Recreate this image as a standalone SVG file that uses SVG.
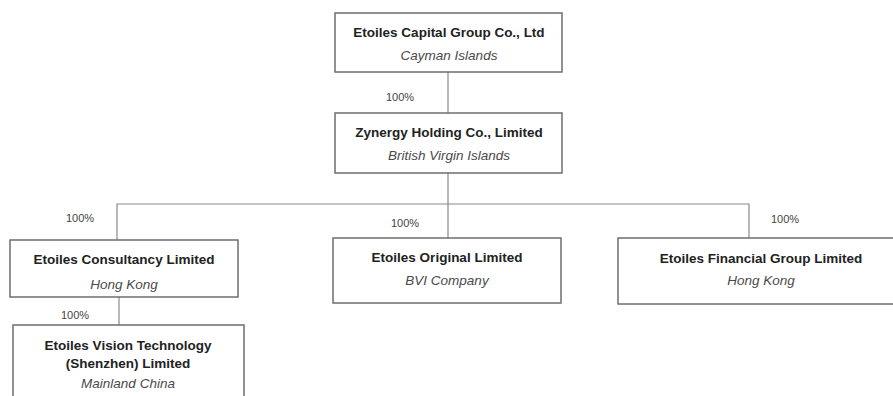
<svg xmlns="http://www.w3.org/2000/svg" width="893" height="396" viewBox="0 0 893 396">
<style>
.box{fill:#fff;stroke:#6e6e6e;stroke-width:1.5}
.t{font-family:"Liberation Sans",Arial,sans-serif;font-size:13.5px;font-weight:bold;fill:#222;text-anchor:middle}
.s{font-family:"Liberation Sans",Arial,sans-serif;font-size:13.5px;font-style:italic;fill:#4a4a4a;text-anchor:middle}
.p{font-family:"Liberation Sans",Arial,sans-serif;font-size:11px;fill:#444;text-anchor:middle}
.ln{stroke:#8a8a8a;stroke-width:1.2;fill:none}
</style>
<rect width="893" height="396" fill="#fff"/>
<g id="connectors">
<line class="ln" x1="448" y1="72" x2="448" y2="113"/>
<line class="ln" x1="448" y1="173" x2="448" y2="238"/>
<polyline class="ln" points="117,240 117,204 749,204 749,238"/>
<line class="ln" x1="119" y1="297" x2="119" y2="325"/>
<text class="p" x="400" y="101">100%</text>
<text class="p" x="80" y="222">100%</text>
<text class="p" x="405" y="227">100%</text>
<text class="p" x="785" y="223">100%</text>
<text class="p" x="75" y="319">100%</text>
</g>
<g id="n1">
<rect class="box" x="335" y="13" width="227" height="59"/>
<text class="t" x="449" y="37">Etoiles Capital Group Co., Ltd</text>
<text class="s" x="449" y="60">Cayman Islands</text>
</g>
<g id="n2">
<rect class="box" x="335" y="113" width="227" height="60"/>
<text class="t" x="449" y="137">Zynergy Holding Co., Limited</text>
<text class="s" x="449" y="160">British Virgin Islands</text>
</g>
<g id="n3">
<rect class="box" x="10" y="240" width="228" height="57"/>
<text class="t" x="124" y="264">Etoiles Consultancy Limited</text>
<text class="s" x="124" y="289">Hong Kong</text>
</g>
<g id="n4">
<rect class="box" x="333" y="238" width="228" height="65"/>
<text class="t" x="447" y="262">Etoiles Original Limited</text>
<text class="s" x="447" y="285">BVI Company</text>
</g>
<g id="n5">
<rect class="box" x="618" y="238" width="290" height="66"/>
<text class="t" x="761" y="263">Etoiles Financial Group Limited</text>
<text class="s" x="761" y="285">Hong Kong</text>
</g>
<g id="n6">
<rect class="box" x="13" y="325" width="231" height="90"/>
<text class="t" x="128" y="350">Etoiles Vision Technology</text>
<text class="t" x="128" y="368">(Shenzhen) Limited</text>
<text class="s" x="128" y="388">Mainland China</text>
</g>
</svg>
